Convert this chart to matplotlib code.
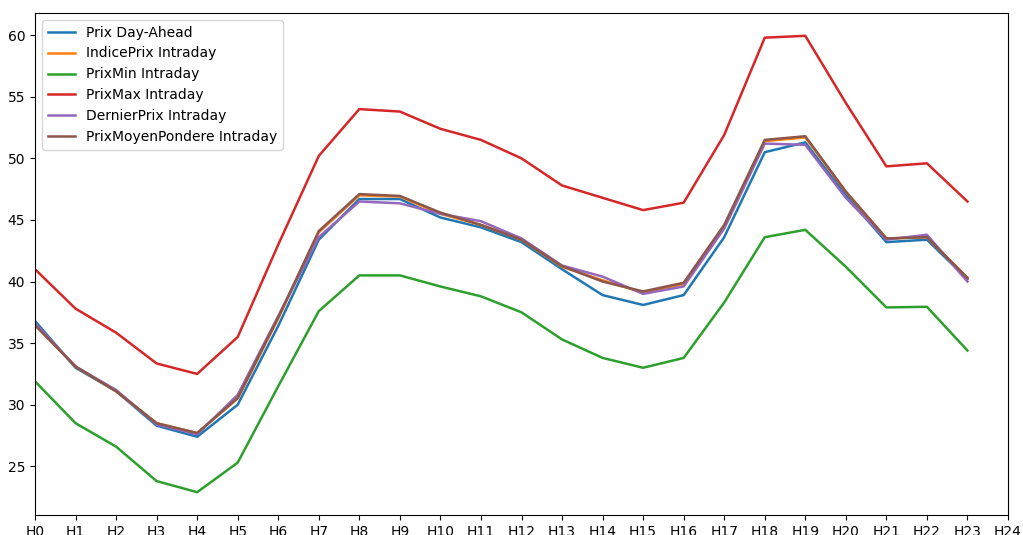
import matplotlib
matplotlib.use("Agg")
import matplotlib.pyplot as plt

hours = list(range(24))
tick_labels = ["H%d" % i for i in range(25)]

prix_day_ahead = [36.8, 33.0, 31.1, 28.3, 27.4, 30.0, 36.4, 43.4, 46.7, 46.7, 45.2, 44.4,
                  43.2, 41.0, 38.9, 38.1, 38.9, 43.6, 50.5, 51.3, 47.0, 43.2, 43.4, 40.2]
indice_prix = [36.5, 33.1, 31.1, 28.5, 27.7, 30.5, 37.0, 44.0, 47.0, 46.9, 45.5, 44.6,
               43.4, 41.2, 40.1, 39.1, 39.8, 44.5, 51.4, 51.7, 47.3, 43.5, 43.6, 40.3]
prix_min = [31.9, 28.5, 26.6, 23.8, 22.9, 25.3, 31.5, 37.6, 40.5, 40.5, 39.6, 38.8,
            37.5, 35.3, 33.8, 33.0, 33.8, 38.3, 43.6, 44.2, 41.2, 37.9, 37.95, 34.4]
prix_max = [41.0, 37.8, 35.85, 33.35, 32.5, 35.5, 43.0, 50.2, 54.0, 53.8, 52.4, 51.5,
            50.0, 47.8, 46.8, 45.8, 46.4, 51.9, 59.8, 59.95, 54.5, 49.35, 49.6, 46.5]
dernier_prix = [36.6, 33.1, 31.2, 28.4, 27.6, 30.8, 37.2, 43.6, 46.5, 46.35, 45.5, 44.9,
                43.5, 41.3, 40.4, 39.0, 39.6, 44.3, 51.2, 51.1, 46.8, 43.4, 43.8, 40.0]
prix_moyen = [36.45, 33.1, 31.1, 28.5, 27.7, 30.55, 37.1, 44.1, 47.1, 46.95, 45.6, 44.6,
              43.4, 41.25, 40.0, 39.2, 39.9, 44.6, 51.5, 51.8, 47.3, 43.5, 43.6, 40.3]

series = [
    ("Prix Day-Ahead", prix_day_ahead),
    ("IndicePrix Intraday", indice_prix),
    ("PrixMin Intraday", prix_min),
    ("PrixMax Intraday", prix_max),
    ("DernierPrix Intraday", dernier_prix),
    ("PrixMoyenPondere Intraday", prix_moyen),
]

fig = plt.figure(figsize=(10.23, 5.35), dpi=100)
ax = fig.add_axes([35 / 1023, 1 - 515 / 535, (1008 - 35) / 1023, (515 - 13) / 535])
for name, vals in series:
    ax.plot(hours, vals, label=name, linewidth=1.8)

ax.set_xlim(0, 24)
ax.set_xticks(range(25))
ax.set_xticklabels(tick_labels)
ax.set_yticks([25, 30, 35, 40, 45, 50, 55, 60])
ax.legend(loc="upper left")
fig.savefig("out.png", dpi=100)
